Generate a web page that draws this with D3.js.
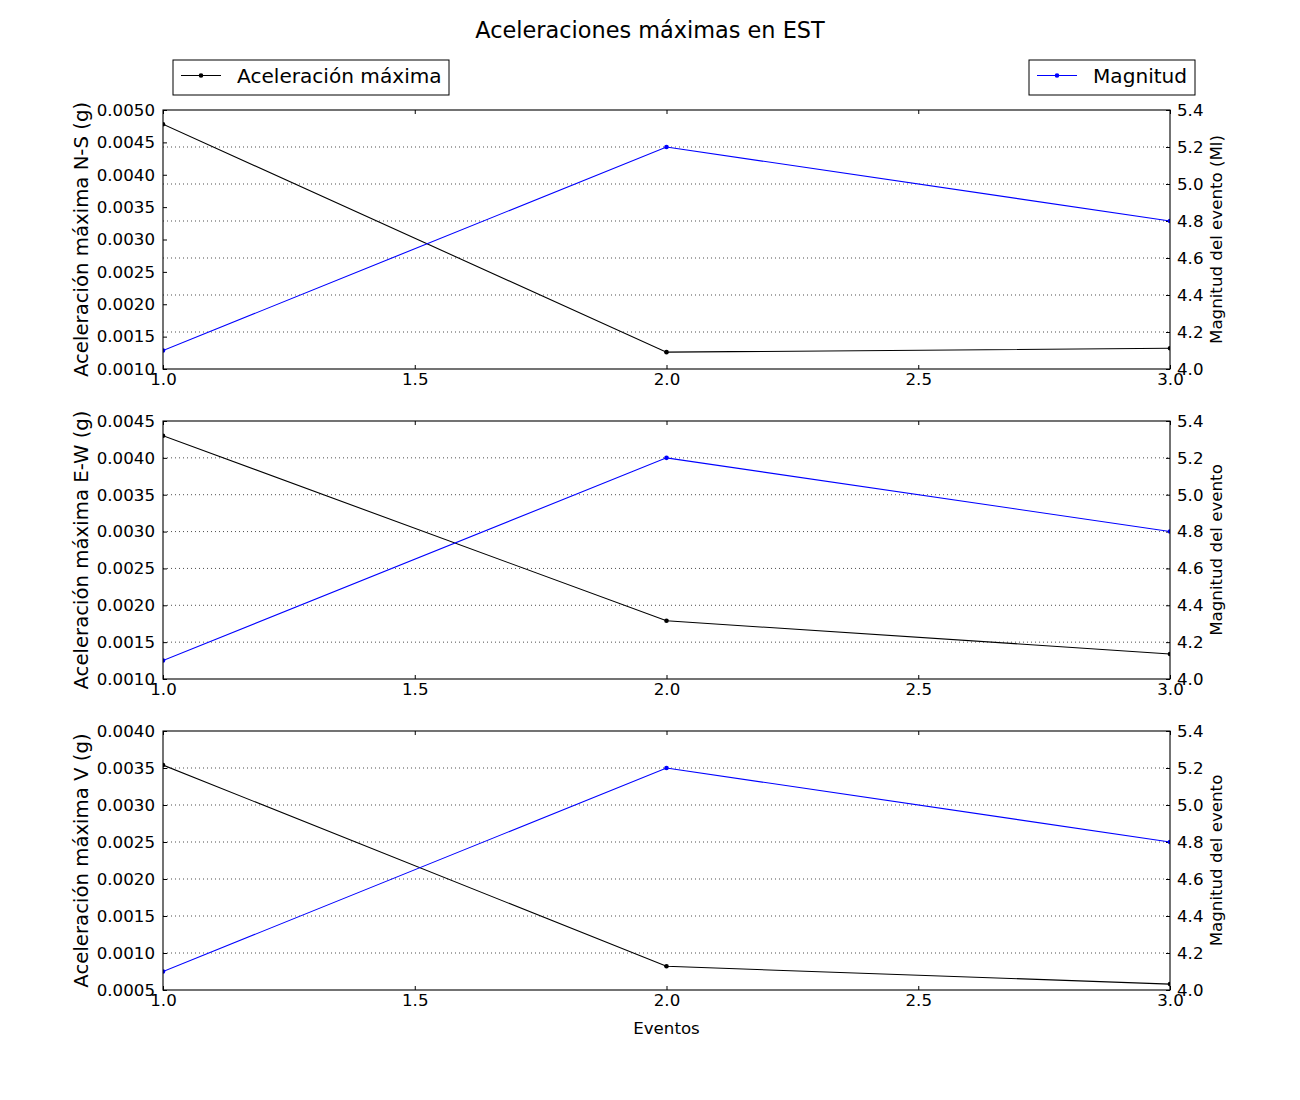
<!DOCTYPE html>
<html>
<head>
<meta charset="utf-8">
<script src="https://cdn.jsdelivr.net/npm/d3@7"></script>
<style>
  body { margin: 0; background: #fff; }
  svg { font-family: "DejaVu Sans", sans-serif; }
</style>
</head>
<body>
<svg width="1300" height="1100"></svg>
<script>
  // datos
  const eventos = [1, 2, 3];
  const magnitud = [4.1, 5.2, 4.8];
  const acelNS = [0.00478, 0.00126, 0.00132];
  const acelEW = [0.00430, 0.00179, 0.00134];
  const acelV = [0.00354, 0.00082, 0.00058];

  const xTicks = [1.0, 1.5, 2.0, 2.5, 3.0];
  const magTicks = [4.0, 4.2, 4.4, 4.6, 4.8, 5.0, 5.2, 5.4];
  const ticksNS = [0.0010, 0.0015, 0.0020, 0.0025, 0.0030, 0.0035, 0.0040, 0.0045, 0.0050];
  const ticksEW = [0.0010, 0.0015, 0.0020, 0.0025, 0.0030, 0.0035, 0.0040, 0.0045];
  const ticksV = [0.0005, 0.0010, 0.0015, 0.0020, 0.0025, 0.0030, 0.0035, 0.0040];

  const panels = [
    {acel: acelNS, ticks: ticksNS, dom: [0.001, 0.005], left: "Aceleración máxima N-S (g)", right: "Magnitud del evento (Ml)", top: 110, bottom: 369},
    {acel: acelEW, ticks: ticksEW, dom: [0.001, 0.0045], left: "Aceleración máxima E-W (g)", right: "Magnitud del evento", top: 421, bottom: 679},
    {acel: acelV, ticks: ticksV, dom: [0.0005, 0.004], left: "Aceleración máxima V (g)", right: "Magnitud del evento", top: 731, bottom: 990}
  ];

  const svg = d3.select("svg");
  const x0 = 163, x1 = 1170;
  const fs = "16.67px";

  const x = d3.scaleLinear().domain([1, 3]).range([x0, x1]);

  svg.append("text")
    .attr("x", 650).attr("y", 38)
    .attr("text-anchor", "middle")
    .style("font-size", "22.4px")
    .text("Aceleraciones máximas en EST");

  panels.forEach((p, i) => {
    const yL = d3.scaleLinear().domain(p.dom).range([p.bottom, p.top]);
    const yR = d3.scaleLinear().domain([4.0, 5.4]).range([p.bottom, p.top]);
    const g = svg.append("g");

    g.append("clipPath").attr("id", "clip" + i)
      .append("rect")
      .attr("x", x0).attr("y", p.top)
      .attr("width", x1 - x0).attr("height", p.bottom - p.top);

    // rejilla (eje derecho)
    g.selectAll(".grid")
      .data(magTicks.slice(1, -1))
      .enter().append("line")
      .attr("x1", x0).attr("x2", x1)
      .attr("y1", d => yR(d)).attr("y2", d => yR(d))
      .attr("stroke", "#000")
      .attr("stroke-width", 0.7)
      .attr("stroke-dasharray", "1,3");

    g.append("g")
      .attr("transform", `translate(0,${p.bottom})`)
      .call(d3.axisBottom(x).tickValues(xTicks).tickFormat(d3.format(".1f")).tickSize(-4).tickPadding(4));
    g.append("g")
      .attr("transform", `translate(0,${p.top})`)
      .call(d3.axisTop(x).tickValues(xTicks).tickFormat("").tickSize(-4));
    g.append("g")
      .attr("transform", `translate(${x0},0)`)
      .call(d3.axisLeft(yL).tickValues(p.ticks).tickFormat(d3.format(".4f")).tickSize(-4).tickPadding(8));
    g.append("g")
      .attr("transform", `translate(${x1},0)`)
      .call(d3.axisRight(yR).tickValues(magTicks).tickFormat(d3.format(".1f")).tickSize(-4).tickPadding(7));

    g.selectAll(".domain").remove();
    g.selectAll(".tick line").attr("stroke", "#000");
    g.selectAll(".tick text").style("font-size", fs).attr("fill", "#000").style("font-family", "DejaVu Sans");

    const line = (yy) => d3.line().x((d, j) => x(eventos[j])).y(d => yy(d));

    const plot = g.append("g").attr("clip-path", `url(#clip${i})`);
    plot.append("path").datum(p.acel)
      .attr("d", line(yL)).attr("fill", "none").attr("stroke", "#000").attr("stroke-width", 1.1);
    plot.selectAll(".pa").data(p.acel).enter().append("circle")
      .attr("cx", (d, j) => x(eventos[j])).attr("cy", d => yL(d)).attr("r", 2.3).attr("fill", "#000");
    plot.append("path").datum(magnitud)
      .attr("d", line(yR)).attr("fill", "none").attr("stroke", "#0000ff").attr("stroke-width", 1.1);
    plot.selectAll(".pm").data(magnitud).enter().append("circle")
      .attr("cx", (d, j) => x(eventos[j])).attr("cy", d => yR(d)).attr("r", 2.3).attr("fill", "#0000ff");

    g.append("rect")
      .attr("x", x0).attr("y", p.top)
      .attr("width", x1 - x0).attr("height", p.bottom - p.top)
      .attr("fill", "none").attr("stroke", "#000").attr("stroke-width", 1.1);

    const cy = (p.top + p.bottom) / 2;
    g.append("text")
      .attr("transform", `translate(88,${cy}) rotate(-90)`)
      .attr("text-anchor", "middle")
      .style("font-size", "19.7px")
      .text(p.left);
    g.append("text")
      .attr("transform", `translate(1222,${cy}) rotate(-90)`)
      .attr("text-anchor", "middle")
      .style("font-size", fs)
      .text(p.right);
  });

  svg.append("text")
    .attr("x", (x0 + x1) / 2).attr("y", 1034)
    .attr("text-anchor", "middle")
    .style("font-size", fs)
    .text("Eventos");

  // leyendas
  const legends = [
    {label: "Aceleración máxima", color: "#000", bx: 173, bw: 276},
    {label: "Magnitud", color: "#0000ff", bx: 1029, bw: 166}
  ];
  legends.forEach(l => {
    const lg = svg.append("g");
    lg.append("rect")
      .attr("x", l.bx).attr("y", 60).attr("width", l.bw).attr("height", 35)
      .attr("fill", "#fff").attr("stroke", "#000").attr("stroke-width", 1);
    lg.append("line")
      .attr("x1", l.bx + 8).attr("x2", l.bx + 48).attr("y1", 75.5).attr("y2", 75.5)
      .attr("stroke", l.color).attr("stroke-width", 1.1);
    lg.append("circle")
      .attr("cx", l.bx + 28).attr("cy", 75.5).attr("r", 2.3).attr("fill", l.color);
    lg.append("text")
      .attr("x", l.bx + 64).attr("y", 82.5)
      .style("font-size", "20.1px")
      .text(l.label);
  });
</script>
</body>
</html>
